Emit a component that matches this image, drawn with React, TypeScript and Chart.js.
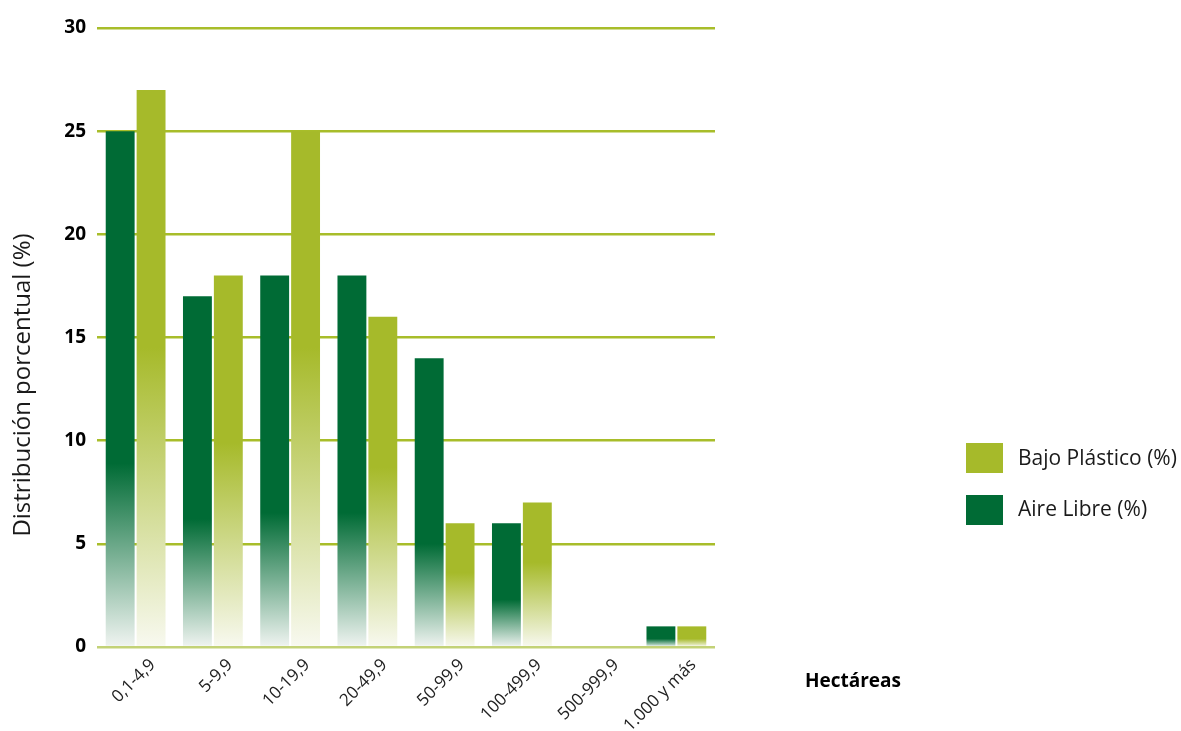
import { useEffect, useRef } from 'react';
import { Chart, registerables } from 'chart.js';

Chart.register(...registerables);

const categories = ['0,1-4,9', '5-9,9', '10-19,9', '20-49,9', '50-99,9', '100-499,9', '500-999,9', '1.000 y más'];
const aireLibre = [25, 17, 18, 18, 14, 6, 0, 1];
const bajoPlastico = [27, 18, 25, 16, 6, 7, 0, 1];
// value (in %) below which each bar fades towards white
const aireLibreFade = [8.9, 6.2, 6.5, 6.5, 5.0, 2.3, 0, 0.4];
const bajoPlasticoFade = [14.5, 9.9, 14.5, 8.7, 3.6, 4.1, 0, 0.4];
const yTicks = [0, 5, 10, 15, 20, 25, 30];
const seriesNames = ['Aire Libre (%)', 'Bajo Plástico (%)'];
const yTitle = 'Distribución porcentual (%)';
const xTitle = 'Hectáreas';

const DARK = '#006b35';
const LIGHT = '#a6ba2a';
const FONT = "'Open Sans', 'Noto Sans', sans-serif";

function fadeFill(color: string, tint: string, fades: number[]) {
  return (ctx: any) => {
    const chart = ctx.chart;
    const y = chart.scales && chart.scales.y;
    if (!y || !chart.chartArea) return color;
    const f = fades[ctx.dataIndex] ?? 0;
    const y0 = y.getPixelForValue(0);
    const y1 = y.getPixelForValue(f);
    if (!isFinite(y0) || !isFinite(y1) || y0 - y1 < 1) return color;
    const g = chart.ctx.createLinearGradient(0, y0, 0, y1);
    g.addColorStop(0, tint);
    g.addColorStop(1, color);
    return g;
  };
}

const overlayPlugin = {
  id: 'overlay',
  afterDraw(chart: any) {
    const c = chart.ctx;
    c.save();
    // legend
    c.fillStyle = LIGHT;
    c.fillRect(966, 443, 37, 30);
    c.fillStyle = DARK;
    c.fillRect(966, 495, 37, 30);
    c.fillStyle = '#1a1a1a';
    c.font = `21px ${FONT}`;
    c.textAlign = 'left';
    c.textBaseline = 'middle';
    c.fillText(seriesNames[1], 1018, 459);
    c.fillText(seriesNames[0], 1018, 510);
    // x axis title
    c.fillStyle = '#000';
    c.font = `bold 19px ${FONT}`;
    c.textAlign = 'center';
    c.fillText(xTitle, 853, 682);
    // y axis title
    c.translate(23, 385);
    c.rotate(-Math.PI / 2);
    c.fillStyle = '#1a1a1a';
    c.font = `24px ${FONT}`;
    c.fillText(yTitle, 0, 0);
    c.restore();
  },
};

export default function App() {
  const ref = useRef<HTMLCanvasElement>(null);
  useEffect(() => {
    if (!ref.current) return;
    const chart = new Chart(ref.current, {
      type: 'bar',
      data: {
        labels: categories,
        datasets: [
          {
            label: seriesNames[0],
            data: aireLibre,
            backgroundColor: fadeFill(DARK, '#f0f4f1', aireLibreFade),
            borderWidth: 0,
            barPercentage: 0.935,
            categoryPercentage: 0.8,
          },
          {
            label: seriesNames[1],
            data: bajoPlastico,
            backgroundColor: fadeFill(LIGHT, '#f8f9f0', bajoPlasticoFade),
            borderWidth: 0,
            barPercentage: 0.935,
            categoryPercentage: 0.8,
          },
        ],
      },
      options: {
        responsive: false,
        animation: false,
        layout: { padding: { top: 28, right: 466, left: 0, bottom: 0 } },
        plugins: {
          legend: { display: false },
          tooltip: { enabled: false },
        },
        scales: {
          x: {
            grid: { display: false },
            border: { display: false },
            ticks: {
              autoSkip: false,
              maxRotation: 45,
              minRotation: 45,
              labelOffset: 17,
              padding: 0,
              color: '#222',
              font: { family: FONT, size: 17 },
            },
            afterFit: (s: any) => {
              s.height = 84;
            },
          },
          y: {
            min: 0,
            max: 30,
            afterBuildTicks: (s: any) => {
              s.ticks = yTicks.map((v) => ({ value: v }));
            },
            border: { display: false },
            grid: {
              drawTicks: false,
              lineWidth: 2.5,
              color: (ctx: any) => (ctx.tick && ctx.tick.value === 0 ? '#c3d277' : '#a8bd2a'),
            },
            ticks: {
              padding: 11,
              color: '#000',
              font: { family: FONT, size: 19, weight: 'bold' },
            },
            afterFit: (s: any) => {
              s.width = 97;
            },
          },
        },
      },
      plugins: [overlayPlugin],
    });
    return () => chart.destroy();
  }, []);
  return (
    <div style={{ position: 'absolute', left: 0, top: 0, width: 1181, height: 731, background: '#fff' }}>
      <canvas ref={ref} width={1181} height={731} style={{ display: 'block' }} />
    </div>
  );
}
